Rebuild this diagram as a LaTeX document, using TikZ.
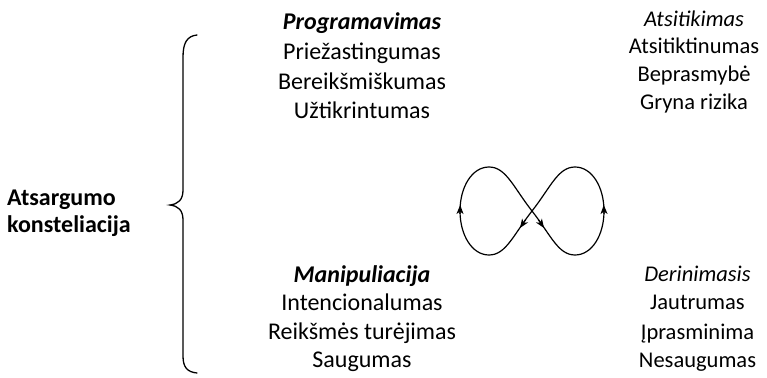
\documentclass[tikz,border=0pt]{standalone}
\usepackage{fontspec}
\setmainfont{Carlito}
\usetikzlibrary{arrows.meta}
\begin{document}
\begin{tikzpicture}[x=1pt,y=-1pt,
  txt/.style={font=\fontsize{24}{29}\selectfont, anchor=base, inner sep=0pt},
  rtxt/.style={font=\fontsize{22.5}{28}\selectfont, anchor=base, inner sep=0pt},
  bi/.style={font=\fontsize{24}{29}\selectfont\bfseries\itshape},
  it/.style={font=\fontsize{22.5}{28}\selectfont\itshape},
  lbl/.style={font=\fontsize{24}{29}\selectfont\bfseries, anchor=base west, inner sep=0pt},
  bracestyle/.style={line width=1.3pt, line cap=round},
  loopstyle/.style={line width=1.2pt},
  tip/.style={line width=1.2pt, -{Stealth[length=9pt,width=7pt,inset=2.5pt]}}
]
\useasboundingbox (0,0) rectangle (767,377);

% left label
\node[lbl] (l1) at (7,205) {Atsargumo};
\node[lbl] (l2) at (7,232) {konsteliacija};

% brace
\draw[bracestyle] (197,35) .. controls (187,36) and (183,43) .. (183,57)
  -- (183,190) .. controls (183,200) and (178,204) .. (170,205)
  .. controls (178,206) and (183,210) .. (183,220)
  -- (183,356) .. controls (183,367) and (187,372) .. (197,373);

% middle top
\node[txt,bi] (p0) at (362,30) {Programavimas};
\node[txt] (p1) at (362,60) {Priežastingumas};
\node[txt] (p2) at (362,89.5) {Bereikšmiškumas};
\node[txt] (p3) at (362,118.5) {Užtikrintumas};

% right top
\node[rtxt,it] (a0) at (694,26.5) {Atsitikimas};
\node[rtxt] (a1) at (694,54) {Atsitiktinumas};
\node[rtxt] (a2) at (694,82) {Beprasmybė};
\node[rtxt] (a3) at (694,110) {Gryna rizika};

% middle bottom
\node[txt,bi] (m0) at (362,282) {Manipuliacija};
\node[txt] (m1) at (362,310) {Intencionalumas};
\node[txt] (m2) at (362,339) {Reikšmės turėjimas};
\node[txt] (m3) at (362,367) {Saugumas};

% right bottom
\node[rtxt,it] (d0) at (697.5,281) {Derinimasis};
\node[rtxt] (d1) at (697.5,309) {Jautrumas};
\node[rtxt] (d2) at (697.5,339) {Įprasminima};
\node[rtxt] (d3) at (697.5,367) {Nesaugumas};

% infinity loop
\coordinate (C) at (532,211);
\coordinate (L) at (460,211);
\coordinate (R) at (604,211);
\coordinate (TL) at (489,167);
\coordinate (BL) at (489,255);
\coordinate (TR) at (575,167);
\coordinate (BR) at (575,255);
\draw[loopstyle] (C) .. controls (513.4,234.7) and (506,255) .. (BL)
  .. controls (472,255) and (460,235) .. (L)
  .. controls (460,187) and (472,167) .. (TL)
  .. controls (506,167) and (513.4,187.3) .. (C)
  .. controls (550.6,234.7) and (558,255) .. (BR)
  .. controls (592,255) and (604,235) .. (R)
  .. controls (604,187) and (592,167) .. (TR)
  .. controls (558,167) and (550.6,187.3) .. (C);
\coordinate (a1s) at (525.6,219.7); \coordinate (a1e) at (520,228);
\coordinate (a2s) at (538.4,219.7); \coordinate (a2e) at (544,228);
\coordinate (a3s) at (460,214);     \coordinate (a3e) at (460.2,205);
\coordinate (a4s) at (604,214);     \coordinate (a4e) at (603.8,205);
\draw[tip] (a1s) -- (a1e);
\draw[tip] (a2s) -- (a2e);
\draw[tip] (a3s) -- (a3e);
\draw[tip] (a4s) -- (a4e);
\end{tikzpicture}
\end{document}
